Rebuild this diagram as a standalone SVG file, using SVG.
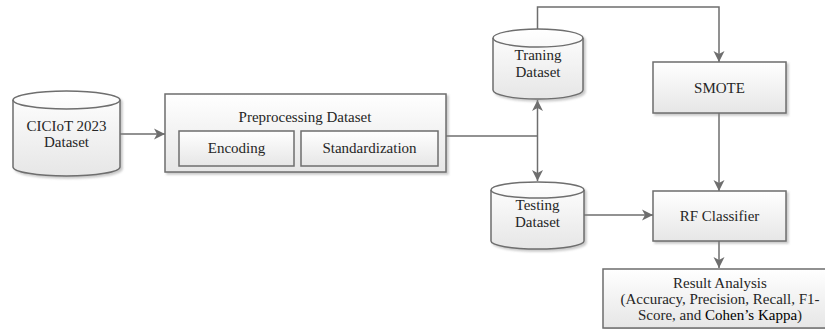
<svg xmlns="http://www.w3.org/2000/svg" width="825" height="329" viewBox="0 0 825 329">
  <defs>
    <linearGradient id="fillGrad" x1="0" y1="0" x2="0" y2="1">
      <stop offset="0" stop-color="#ffffff"/>
      <stop offset="1" stop-color="#e6e6e6"/>
    </linearGradient>
    <filter id="shadow" x="-10%" y="-10%" width="130%" height="140%">
      <feDropShadow dx="2" dy="2" stdDeviation="1" flood-color="#888" flood-opacity="0.45"/>
    </filter>
    <marker id="arrow" markerUnits="userSpaceOnUse" markerWidth="12" markerHeight="12" viewBox="0 0 12 12" refX="11" refY="6" orient="auto-start-reverse">
      <path d="M0,0.5 L11,6 L0,11.5 L3,6 Z" fill="#6e6e6e"/>
    </marker>
  </defs>
  <style>
    .shape { fill: url(#fillGrad); stroke: #6e6e6e; stroke-width: 1.5; filter: url(#shadow); }
    .inner { fill: url(#fillGrad); stroke: #6e6e6e; stroke-width: 1.5; }
    .rim { fill: none; stroke: #6e6e6e; stroke-width: 1.5; }
    .link { fill: none; stroke: #6e6e6e; stroke-width: 1.5; }
    text { font-family: "Liberation Serif", "Times New Roman", serif; font-size: 15px; fill: #262626; text-anchor: middle; }
  </style>

  <rect width="825" height="329" fill="#ffffff"/>

  <!-- connectors -->
  <g id="connectors">
    <line class="link" x1="120" y1="134" x2="165" y2="134" marker-end="url(#arrow)"/>
    <line class="link" x1="446" y1="136" x2="537.5" y2="136"/>
    <line class="link" x1="537.5" y1="100" x2="537.5" y2="181" marker-start="url(#arrow)" marker-end="url(#arrow)"/>
    <polyline class="link" points="537.5,29 537.5,7 719,7 719,62" marker-end="url(#arrow)"/>
    <line class="link" x1="719" y1="113" x2="719" y2="191" marker-end="url(#arrow)"/>
    <line class="link" x1="584" y1="215" x2="653" y2="215" marker-end="url(#arrow)"/>
    <line class="link" x1="719" y1="241" x2="719" y2="268" marker-end="url(#arrow)"/>
  </g>

  <!-- source dataset -->
  <g id="ciciot">
    <path class="shape" d="M13,100 L13,167 A53.5,9 0 0 0 120,167 L120,100 A53.5,9 0 0 0 13,100 Z"/>
    <path class="rim" d="M13,100 A53.5,9 0 0 0 120,100"/>
    <text x="66.5" y="131">CICIoT 2023</text>
    <text x="66.5" y="147">Dataset</text>
  </g>

  <!-- preprocessing stage -->
  <g id="preprocessing">
    <rect class="shape" x="165" y="94" width="281" height="78"/>
    <text x="305" y="122">Preprocessing Dataset</text>
    <g id="encoding">
      <rect class="inner" x="179" y="131" width="115" height="35"/>
      <text x="236.5" y="153">Encoding</text>
    </g>
    <g id="standardization">
      <rect class="inner" x="301" y="131" width="137" height="35"/>
      <text x="369.5" y="153">Standardization</text>
    </g>
  </g>

  <!-- training split -->
  <g id="training">
    <path class="shape" d="M493,38 L493,90 A45,9 0 0 0 583,90 L583,38 A45,9 0 0 0 493,38 Z"/>
    <path class="rim" d="M493,38 A45,9 0 0 0 583,38"/>
    <text x="538" y="60">Traning</text>
    <text x="538" y="77">Dataset</text>
  </g>

  <!-- testing split -->
  <g id="testing">
    <path class="shape" d="M491,190 L491,241 A46.5,8 0 0 0 584,241 L584,190 A46.5,8 0 0 0 491,190 Z"/>
    <path class="rim" d="M491,190 A46.5,8 0 0 0 584,190"/>
    <text x="537.5" y="210">Testing</text>
    <text x="537.5" y="227">Dataset</text>
  </g>

  <!-- oversampling -->
  <g id="smote">
    <rect class="shape" x="653" y="62" width="133" height="51"/>
    <text x="719.5" y="93">SMOTE</text>
  </g>

  <!-- classifier -->
  <g id="rf-classifier">
    <rect class="shape" x="653" y="191" width="133" height="50"/>
    <text x="719.5" y="221">RF Classifier</text>
  </g>

  <!-- evaluation -->
  <g id="result-analysis">
    <rect class="shape" x="603" y="269" width="240" height="59"/>
    <text x="720" y="288">Result Analysis</text>
    <text x="720" y="304">(Accuracy, Precision, Recall, F1-</text>
    <text x="720" y="320">Score, and <tspan fill="#000">Cohen’s Kappa</tspan>)</text>
  </g>
</svg>
